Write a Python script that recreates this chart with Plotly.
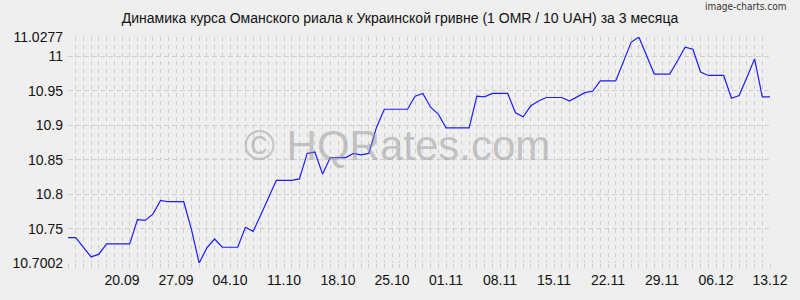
import pandas as pd
import plotly.graph_objects as go

start_date = "2021-09-13"
end_date = "2021-12-13"

rates = [
    10.737, 10.737, 10.723, 10.709, 10.713, 10.728, 10.728, 10.728, 10.728, 10.763,
    10.762, 10.771, 10.791, 10.789, 10.789, 10.789, 10.749, 10.7002, 10.722, 10.735,
    10.723, 10.723, 10.723, 10.752, 10.746, 10.770, 10.795, 10.820, 10.820, 10.820,
    10.822, 10.859, 10.861, 10.829, 10.853, 10.853, 10.853, 10.859, 10.857, 10.859,
    10.897, 10.923, 10.923, 10.923, 10.923, 10.942, 10.946, 10.926, 10.916, 10.896,
    10.896, 10.896, 10.896, 10.942, 10.941, 10.946, 10.946, 10.946, 10.918, 10.912,
    10.928, 10.935, 10.940, 10.940, 10.940, 10.935, 10.941, 10.947, 10.949, 10.964,
    10.964, 10.964, 10.992, 11.020, 11.0277, 11.001, 10.974, 10.974, 10.974, 10.993,
    11.013, 11.010, 10.977, 10.972, 10.972, 10.972, 10.939, 10.943, 10.969, 10.996,
    10.941, 10.941,
]

x_tick_labels = ["20.09", "27.09", "04.10", "11.10", "18.10", "25.10", "01.11",
                 "08.11", "15.11", "22.11", "29.11", "06.12", "13.12"]
y_tick_values = [10.7002, 10.75, 10.8, 10.85, 10.9, 10.95, 11.0, 11.0277]
y_tick_labels = ["10.7002", "10.75", "10.8", "10.85", "10.9", "10.95", "11", "11.0277"]

title_text = "Динамика курса Оманского риала к Украинской гривне (1 OMR / 10 UAH) за 3 месяца"
watermark = "© HQRates.com"
credit = "image-charts.com"

dates = pd.date_range(start_date, end_date, freq="D")
date_strs = [d.strftime("%d.%m") for d in dates]
x_tick_vals = [dates[date_strs.index(lbl)] for lbl in x_tick_labels]

BG = "#efefef"
GRID = "#cdcdcd"
FONT = "Liberation Sans, Arial, sans-serif"

fig = go.Figure()
fig.add_trace(go.Scatter(
    x=dates, y=rates, mode="lines",
    line=dict(color="#1c1cff", width=1.2),
    hoverinfo="skip", showlegend=False,
))

fig.update_layout(
    width=800, height=300,
    margin=dict(l=67, r=21, t=37, b=34),
    paper_bgcolor=BG, plot_bgcolor=BG,
    font=dict(family=FONT, size=14, color="#111111"),
    title=dict(text=title_text, x=0.5, xanchor="center", y=1 - 18 / 300,
               yanchor="middle", font=dict(family=FONT, size=14, color="#111111")),
    xaxis=dict(
        range=[dates[0], dates[-1]],
        tickvals=x_tick_vals, ticktext=x_tick_labels,
        showgrid=True, gridcolor=GRID, griddash="4px,4px", gridwidth=1,
        ticks="outside", ticklen=4, tickcolor=GRID,
        showline=False, zeroline=False,
        minor=dict(dtick=86400000, showgrid=True, gridcolor=GRID,
                   griddash="4px,4px", gridwidth=1,
                   ticks="outside", ticklen=4, tickcolor=GRID),
        tickfont=dict(family=FONT, size=14, color="#111111"),
        fixedrange=True,
    ),
    yaxis=dict(
        range=[10.7002, 11.0277],
        tickvals=y_tick_values, ticktext=y_tick_labels,
        showgrid=True, gridcolor=GRID, griddash="5px,3px", gridwidth=1,
        showline=False, zeroline=False, ticks="", ticklabelstandoff=4,
        tickfont=dict(family=FONT, size=14, color="#111111"),
        fixedrange=True,
    ),
    annotations=[
        dict(text=watermark, xref="paper", yref="paper", x=0.468, y=0.52,
             xanchor="center", yanchor="middle", showarrow=False,
             font=dict(family=FONT, size=42, color="rgba(150,150,150,0.5)")),
        dict(text=credit, xref="paper", yref="paper", x=1 + 18 / 712, y=1 + 31 / 229,
             xanchor="right", yanchor="middle", showarrow=False,
             font=dict(family="DejaVu Sans Condensed, DejaVu Sans", size=10, color="#333333")),
    ],
)

fig.write_html("out.html")
